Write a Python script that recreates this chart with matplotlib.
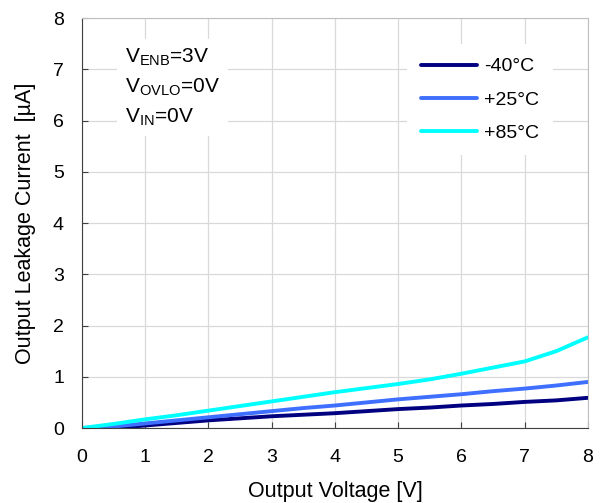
import matplotlib
matplotlib.use("Agg")
import matplotlib.pyplot as plt

plt.rcParams['font.family'] = ['Liberation Sans', 'DejaVu Sans']

# output voltage [V]
vout = [0, 0.5, 1, 1.5, 2, 2.5, 3, 3.5, 4, 4.5, 5, 5.5, 6, 6.5, 7, 7.5, 8]
# leakage current [uA]
i_m40 = [0, 0.0, 0.05, 0.10, 0.15, 0.19, 0.23, 0.26, 0.29, 0.33, 0.37, 0.40, 0.44, 0.47, 0.51, 0.54, 0.59]
i_25 = [0, 0.03, 0.09, 0.15, 0.21, 0.27, 0.33, 0.39, 0.44, 0.50, 0.56, 0.61, 0.66, 0.72, 0.77, 0.83, 0.90]
i_85 = [0, 0.08, 0.17, 0.25, 0.34, 0.43, 0.52, 0.61, 0.70, 0.78, 0.86, 0.95, 1.06, 1.18, 1.30, 1.50, 1.77]

labels = ['-40°C', '+25°C', '+85°C']
colors = ['#000080', '#3f6fff', '#00ffff']

fig = plt.figure(figsize=(6.06, 5.03), dpi=100)
ax = fig.add_axes([0.1353, 0.149, 0.8347, 0.815])

for ys, lab, col in zip([i_m40, i_25, i_85], labels, colors):
    ax.plot(vout, ys, color=col, lw=2.8, label=lab, solid_capstyle='round')

ax.set_xlim(0, 8)
ax.set_ylim(0, 8)
ax.set_xticks(range(9))
ax.set_yticks(range(9))
ax.grid(True, color='#d9d9d9', lw=0.9)
ax.set_axisbelow(True)
ax.tick_params(direction='in', labelsize=14, length=4, color='#404040')
ax.tick_params(axis='x', pad=15)
ax.tick_params(axis='y', pad=13)
for s in ['left', 'bottom']:
    ax.spines[s].set_color('#404040')
for s in ['top', 'right']:
    ax.spines[s].set_color('#bfbfbf')

ax.set_xlabel('Output Voltage [V]', fontsize=15.5, labelpad=11)
ax.set_ylabel('Output Leakage Current  [µA]', fontsize=15.5, labelpad=12)

ax.text(0.68, 6.65, r'V$_{\mathregular{ENB}}$=3V' '\n' r'V$_{\mathregular{OVLO}}$=0V' '\n' r'V$_{\mathregular{IN}}$=0V',
        fontsize=15, va='center', ha='left', linespacing=1.5,
        bbox=dict(facecolor='white', edgecolor='none', pad=6))

leg = ax.legend(loc='upper right', bbox_to_anchor=(0.95, 0.96), fontsize=14,
                frameon=True, framealpha=1, edgecolor='none', fancybox=False,
                handlelength=2.9, handletextpad=0.35, labelspacing=0.8, borderpad=0.7)

fig.savefig('out.png', dpi=100)
